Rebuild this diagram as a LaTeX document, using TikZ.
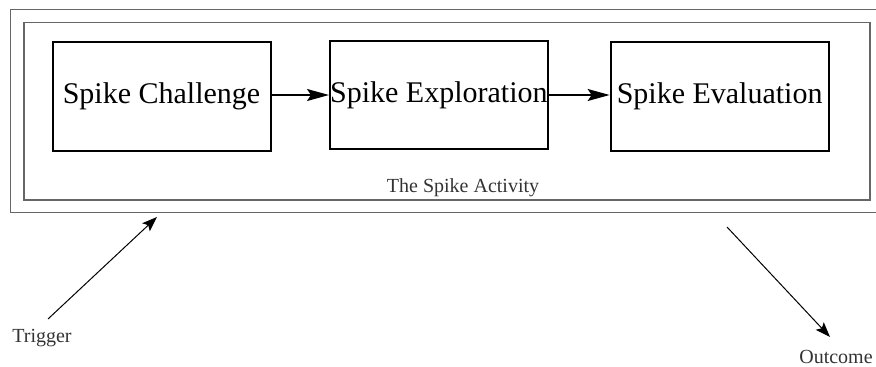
\documentclass[tikz,border=0pt]{standalone}
\usepackage{fontspec}
\setmainfont{Liberation Serif}
\usetikzlibrary{arrows.meta}
\definecolor{framegray}{HTML}{666666}
\definecolor{labelgray}{HTML}{333333}
\tikzset{
  frame/.style={draw=framegray, line width=1.3pt, inner sep=0pt},
  stepbox/.style={draw=black, line width=2pt, inner sep=0pt,
    minimum width=218pt, minimum height=109pt, font=\fontsize{30}{33}\selectfont},
  flow/.style={line width=1.6pt, -{Stealth[length=22pt, width=12pt, inset=4pt]}},
  link/.style={line width=1pt, -{Stealth[length=15pt, width=11pt, inset=3pt]}},
  caption/.style={text=labelgray, inner sep=0pt, font=\fontsize{20}{23}\selectfont}
}
\begin{document}
\begin{tikzpicture}[x=1pt, y=-1pt]
\useasboundingbox (0,0) rectangle (876,367);
% enclosing frames (the outer one runs past the right edge of the page)
\node[frame, minimum width=880pt, minimum height=203.4pt] (outer) at (450.7,111) {};
\node[frame, minimum width=846pt, minimum height=177.3pt] (activity) at (447,111.35) {};
% the three steps
\node[stepbox] (challenge) at (161.5,96.35) {Spike Challenge};
\node[stepbox, minimum width=217.7pt, minimum height=108.3pt] (exploration) at (438.85,94.85) {Spike Exploration};
\node[stepbox] (evaluation) at (719.65,96.35) {Spike Evaluation};
\draw[flow] (challenge.east |- 0,95) -- (exploration.west |- 0,95);
\draw[flow] (exploration.east |- 0,95) -- (evaluation.west |- 0,95);
\node[caption, anchor=base] (title) at (463,192) {The Spike Activity};
% input and output
\node[caption, anchor=base] (trigger) at (42,342) {Trigger};
\node[caption, anchor=base] (outcome) at (836,363) {Outcome};
\coordinate (trigtail) at (48,319);
\coordinate (trighead) at (157,217);
\coordinate (outtail) at (727,227);
\coordinate (outhead) at (830,337);
\draw[link] (trigtail) -- (trighead);
\draw[link] (outtail) -- (outhead);
\end{tikzpicture}
\end{document}
